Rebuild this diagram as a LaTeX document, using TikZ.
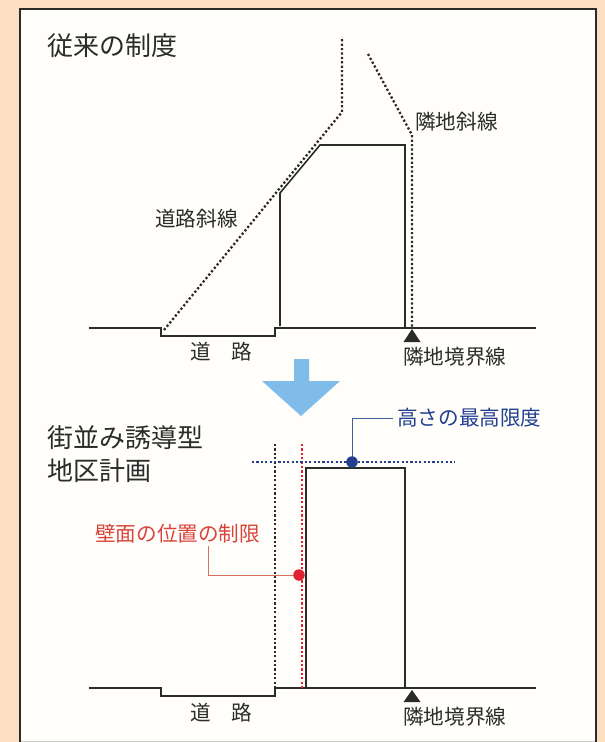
\documentclass[tikz,border=0pt]{standalone}
\usepackage{fontspec}
\newfontfamily\jpfont{Noto Sans CJK JP}
\definecolor{peach}{HTML}{FBDFC0}
\definecolor{paper}{HTML}{FFFEFB}
\definecolor{framegray}{HTML}{2A2A28}
\definecolor{inkgray}{HTML}{2B2B2B}
\definecolor{arrowblue}{HTML}{7FBCE9}
\definecolor{limitblue}{HTML}{23408F}
\definecolor{limitlead}{HTML}{3F5F9F}
\definecolor{wallred}{HTML}{E0242F}
\definecolor{wallink}{HTML}{D8433C}
\definecolor{walllead}{HTML}{D9705F}

\begin{document}
\begin{tikzpicture}[
    x = 1pt, y = -1pt,
    bigtext/.style = {font = \jpfont\fontsize{26}{30}\selectfont, text = inkgray, inner sep = 0pt, anchor = west},
    smalltext/.style = {font = \jpfont\fontsize{20.6}{24}\selectfont, text = inkgray, inner sep = 0pt, anchor = west},
    solidline/.style = {draw = inkgray, line width = 1.6pt},
    dotline/.style = {draw = inkgray, line width = 2.3pt, dash pattern = on 2.2pt off 2.2pt},
    boundmark/.style = {fill = inkgray, draw = none},
    dotmark/.style = {circle, inner sep = 0pt, minimum size = 11.5pt}]

\useasboundingbox (0,0) rectangle (605,742);
\fill[peach] (0,0) rectangle (605,742);
\fill[paper] (20,8) rectangle (596,741);
\draw[framegray, line width = 2pt] (20,742) -- (20,9) -- (596,9) -- (596,742);
\draw[black!20, line width = 1pt] (21,741) -- (595,741);

% upper part
\node[bigtext] (oldtitle) at (47,46) {従来の制度};
\node[smalltext] (neighborslope) at (415,122) {隣地斜線};
\node[smalltext] (roadslope) at (155,219) {道路斜線};
\node[smalltext] (roadA) at (190,352) {道　路};
\node[smalltext] (boundaryA) at (403,357) {隣地境界線};

\draw[solidline] (89,328) -- (161,328) -- (161,336) -- (275,336) -- (275,328) -- (536,328);
\draw[solidline] (280,326) -- (280,193) -- (320,145) -- (405,145) -- (405,328);
\draw[dotline] (164,330) -- (342,112) -- (342,37);
\draw[dotline] (368,54) -- (412,135) -- (412,328);
\fill[boundmark] (412,329) -- (420.5,342) -- (403.5,342) -- cycle;

% arrow
\fill[arrowblue] (294,359) -- (309,359) -- (309,381) -- (340,381) -- (301,416) -- (262,381) -- (294,381) -- cycle;

% lower part
\node[bigtext] (newtitleA) at (47,438) {街並み誘導型};
\node[bigtext] (newtitleB) at (47,471) {地区計画};
\node[smalltext, text = limitblue] (heightlimit) at (397,418) {高さの最高限度};
\node[smalltext, text = wallink] (walllimit) at (95,534) {壁面の位置の制限};
\node[smalltext] (roadB) at (190,713) {道　路};
\node[smalltext] (boundaryB) at (403,717) {隣地境界線};

\draw[solidline] (89,688) -- (161,688) -- (161,696) -- (275,696) -- (275,688) -- (536,688);
\draw[solidline] (306,688) -- (306,468) -- (405,468) -- (405,688);
\draw[dotline] (275,444) -- (275,688);
\draw[dotline, draw = wallred, line width = 1.9pt] (302,444) -- (302,688);
\draw[dotline, draw = limitblue] (252,462) -- (455,462);
\fill[boundmark] (412,690) -- (420.5,702) -- (403.5,702) -- cycle;

\coordinate (walltop) at (208,546);
\draw[walllead, line width = 1pt] (walltop) |- (299,575);
\draw[limitlead, line width = 1pt] (heightlimit.west) ++(-4,0) -| (352,462);
\node[dotmark, fill = limitblue] (heightdot) at (352,462) {};
\node[dotmark, fill = wallred] (walldot) at (299,575) {};
\end{tikzpicture}
\end{document}
